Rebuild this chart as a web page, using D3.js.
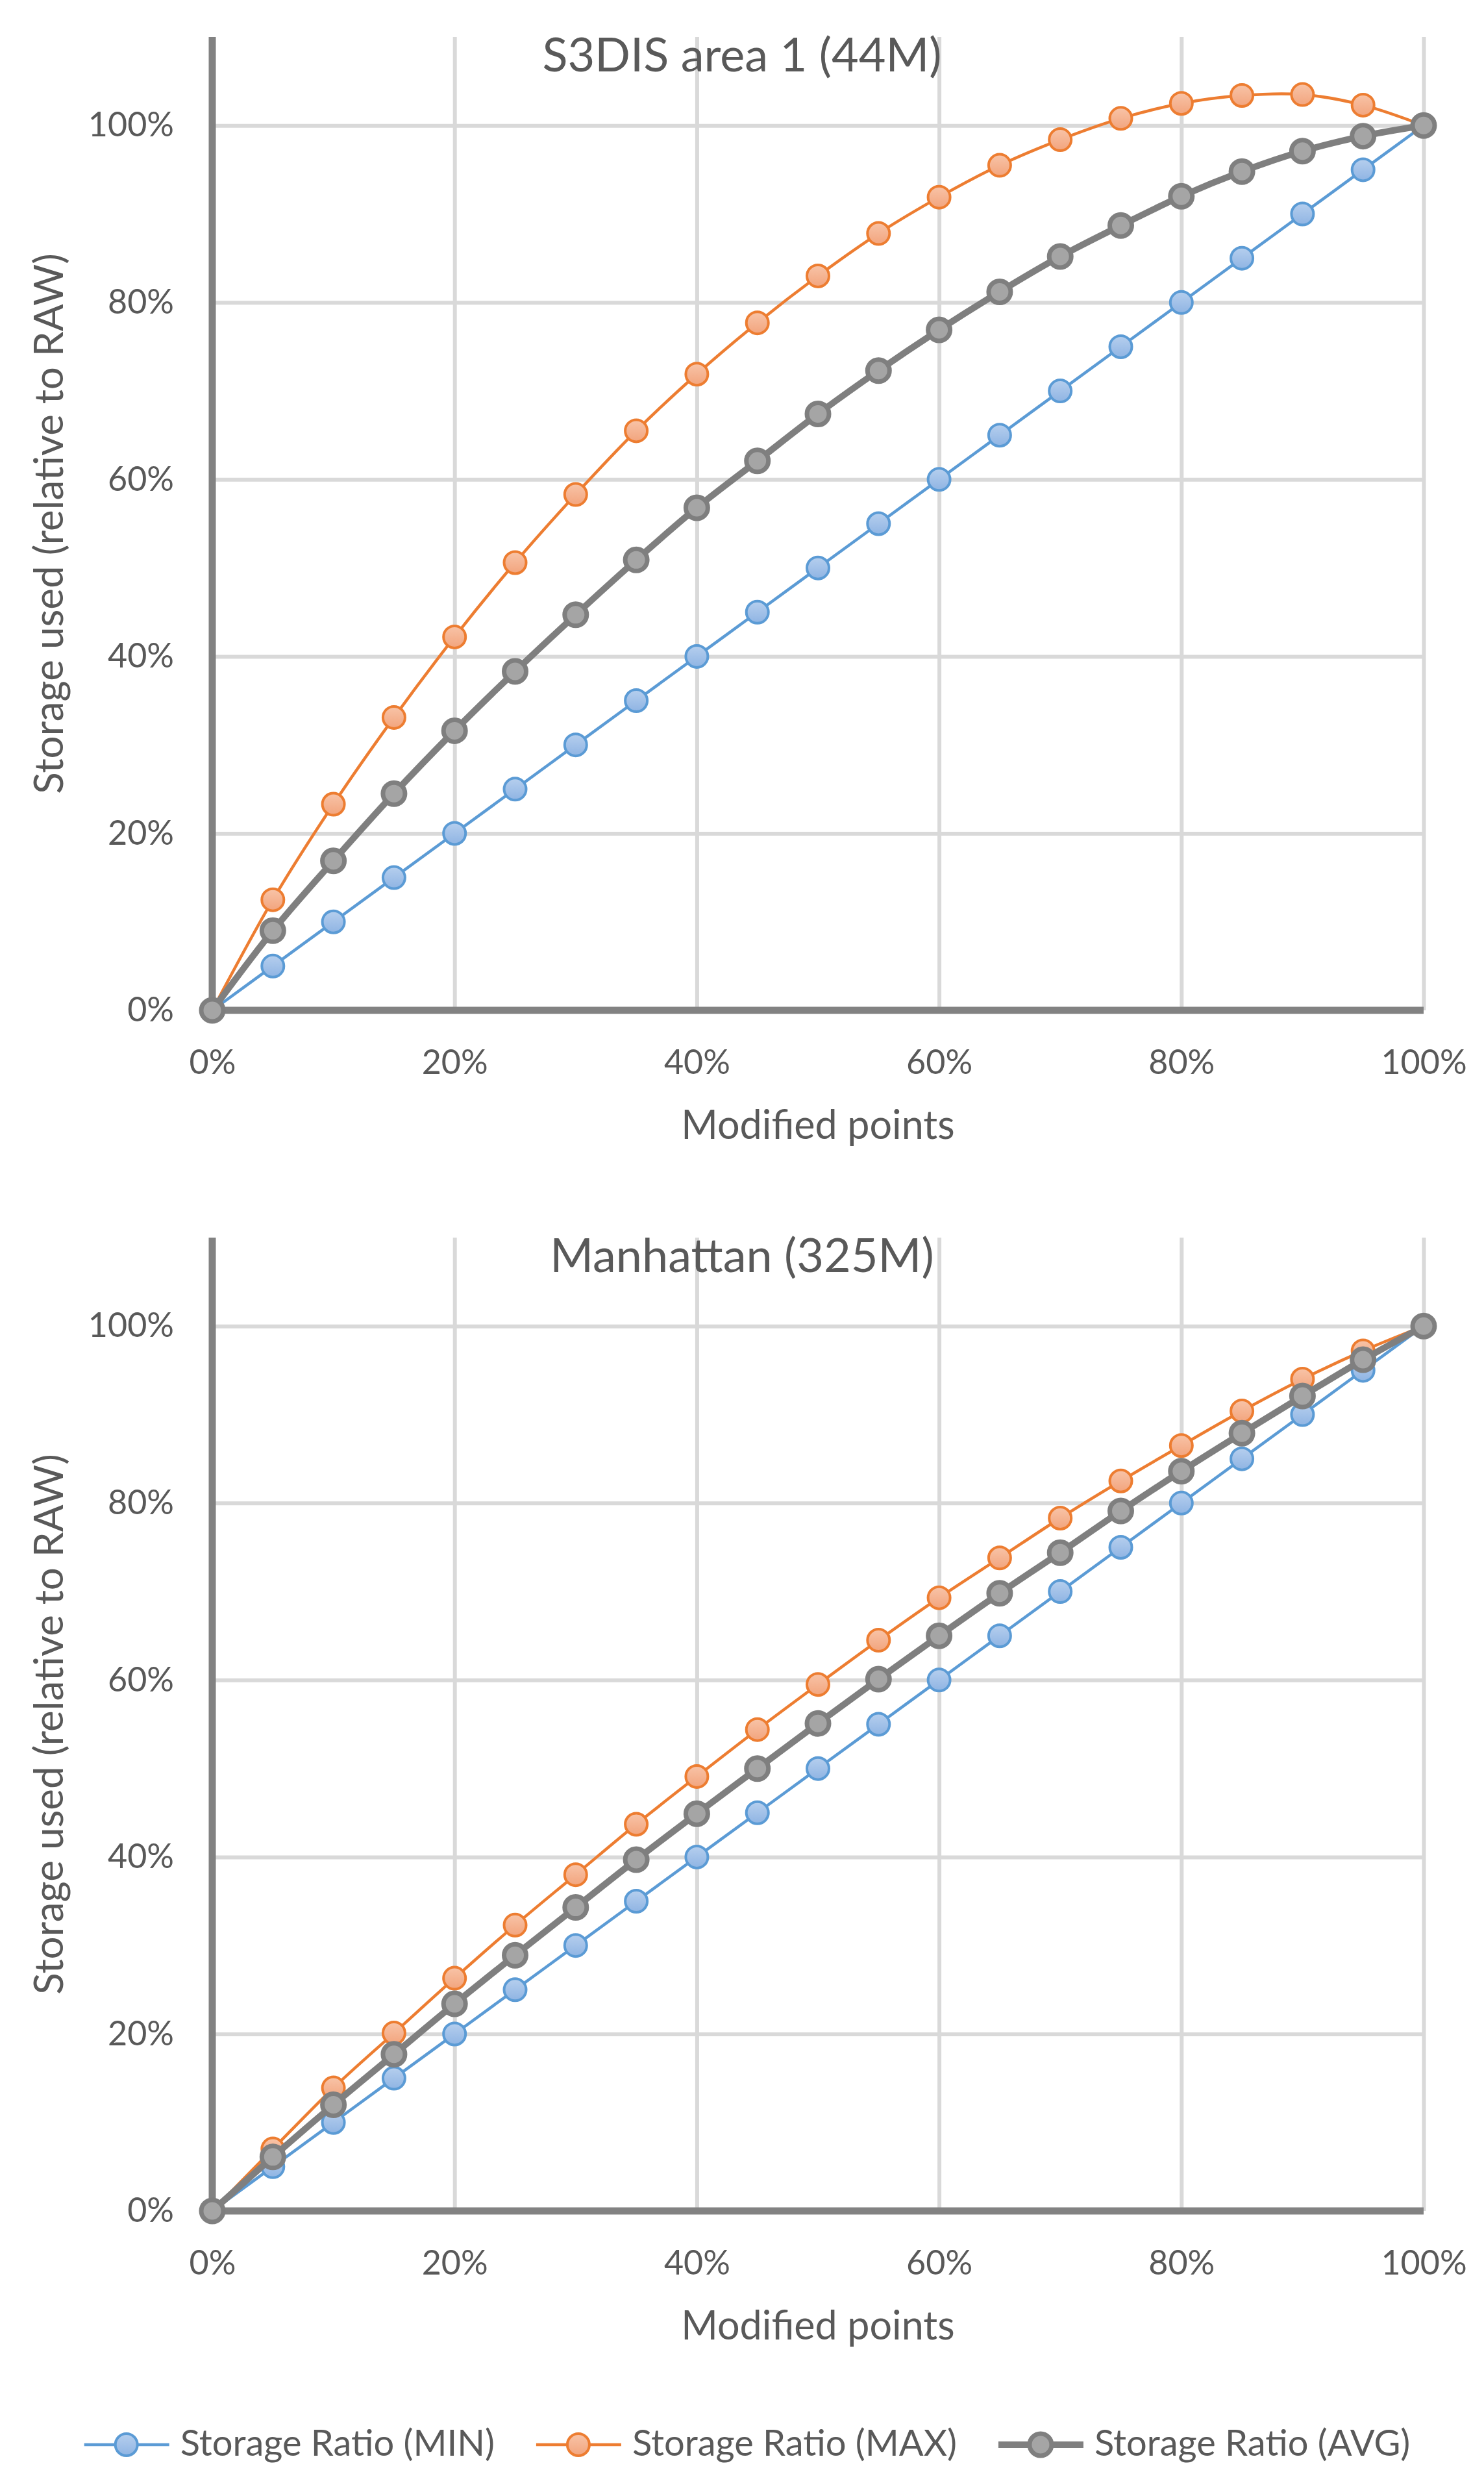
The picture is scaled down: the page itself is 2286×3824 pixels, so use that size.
<!DOCTYPE html>
<html lang="en">
<head>
<meta charset="utf-8">
<script src="https://d3js.org/d3.v7.min.js"></script>
<style>
  body { margin: 0; background: #fff; }
  text { font-family: Lato, "Open Sans", sans-serif; fill: #595959; }
</style>
</head>
<body>
<div id="chart"></div>
<script>

// modified points (%)
var modified = [0, 5, 10, 15, 20, 25, 30, 35, 40, 45, 50, 55, 60, 65, 70, 75, 80, 85, 90, 95, 100];

// S3DIS area 1 (44M)
var s3disMin = [0, 5, 10, 15, 20, 25, 30, 35, 40, 45, 50, 55, 60, 65, 70, 75, 80, 85, 90, 95, 100];
var s3disMax = [0, 12.5, 23.3, 33.1, 42.2, 50.6, 58.3, 65.5, 71.9, 77.7, 83.0, 87.8, 91.9, 95.5, 98.4, 100.8, 102.5, 103.4, 103.5, 102.3, 100];
var s3disAvg = [0, 9.0, 16.9, 24.5, 31.6, 38.3, 44.7, 50.9, 56.8, 62.1, 67.4, 72.3, 76.9, 81.2, 85.2, 88.7, 92.0, 94.8, 97.1, 98.8, 100];

// Manhattan (325M)
var manMin = [0, 5, 10, 15, 20, 25, 30, 35, 40, 45, 50, 55, 60, 65, 70, 75, 80, 85, 90, 95, 100];
var manMax = [0, 7.0, 13.9, 20.1, 26.3, 32.3, 38.0, 43.7, 49.1, 54.4, 59.5, 64.5, 69.3, 73.8, 78.3, 82.5, 86.5, 90.4, 94.0, 97.2, 100];
var manAvg = [0, 6.1, 12.0, 17.7, 23.4, 28.9, 34.3, 39.7, 44.9, 50.0, 55.1, 60.1, 65.0, 69.8, 74.4, 79.1, 83.6, 87.9, 92.1, 96.2, 100];

var xTicks = [0, 20, 40, 60, 80, 100];
var yTicks = [0, 20, 40, 60, 80, 100];
var seriesNames = ["Storage Ratio (MIN)", "Storage Ratio (MAX)", "Storage Ratio (AVG)"];
var titles = ["S3DIS area 1 (44M)", "Manhattan (325M)"];

var w = 2286;
var h = 3824;

var styles = [
  {stroke: "#5b9bd5", width: 4.5, fill: "url(#gBlue)", mstroke: 4},
  {stroke: "#ed7d31", width: 4.5, fill: "url(#gOrange)", mstroke: 4},
  {stroke: "#7f7f7f", width: 10, fill: "#a5a5a5", mstroke: 7}
];

var svg = d3.select("#chart").append("svg")
  .attr("width", w)
  .attr("height", h);

var defs = svg.append("defs");
function grad(id, c1, c2) {
  var lg = defs.append("linearGradient").attr("id", id)
    .attr("x1", 0).attr("y1", 0).attr("x2", 0).attr("y2", 1);
  lg.append("stop").attr("offset", "0%").attr("stop-color", c1);
  lg.append("stop").attr("offset", "100%").attr("stop-color", c2);
}
grad("gBlue", "#b6cfee", "#8fb4e3");
grad("gOrange", "#f8c4a8", "#f2a47d");

var x = d3.scaleLinear().domain([0, 100]).range([327, 2193]);

function drawPanel(title, series, top, bottom) {
  var y = d3.scaleLinear().domain([0, 110]).range([bottom, top]);
  var g = svg.append("g");

  // gridlines
  g.append("g")
    .attr("transform", "translate(0," + bottom + ")")
    .call(d3.axisBottom(x).tickValues(xTicks.slice(1)).tickSize(-(bottom - top)).tickFormat(""))
    .call(function(a) { a.select(".domain").remove(); })
    .selectAll("line").attr("stroke", "#d9d9d9").attr("stroke-width", 6);

  g.append("g")
    .attr("transform", "translate(327,0)")
    .call(d3.axisLeft(y).tickValues(yTicks.slice(1)).tickSize(-(2193 - 327)).tickFormat(""))
    .call(function(a) { a.select(".domain").remove(); })
    .selectAll("line").attr("stroke", "#d9d9d9").attr("stroke-width", 6);

  // axis lines
  g.append("line").attr("x1", 327).attr("x2", 327).attr("y1", top).attr("y2", bottom + 5)
    .attr("stroke", "#828282").attr("stroke-width", 11);
  g.append("line").attr("x1", 322).attr("x2", 2193).attr("y1", bottom).attr("y2", bottom)
    .attr("stroke", "#828282").attr("stroke-width", 11);

  // tick labels
  var yAx = g.append("g")
    .attr("transform", "translate(327,0)")
    .call(d3.axisLeft(y).tickValues(yTicks).tickSize(0).tickPadding(59).tickFormat(function(d) { return d + "%"; }));
  yAx.select(".domain").remove();
  yAx.selectAll("text").attr("font-size", 52).attr("font-family", null).attr("fill", "#595959");

  var xAx = g.append("g")
    .attr("transform", "translate(0," + bottom + ")")
    .call(d3.axisBottom(x).tickValues(xTicks).tickSize(0).tickPadding(61).tickFormat(function(d) { return d + "%"; }));
  xAx.select(".domain").remove();
  xAx.selectAll("text").attr("font-size", 52).attr("font-family", null).attr("fill", "#595959");

  // titles
  g.append("text").attr("x", 1143).attr("y", top + 53)
    .attr("text-anchor", "middle").attr("font-size", 72).text(title);

  g.append("text").attr("x", 1260).attr("y", bottom + 198)
    .attr("text-anchor", "middle").attr("font-size", 61).text("Modified points");

  g.append("text")
    .attr("transform", "translate(97," + ((top + bottom) / 2) + ") rotate(-90)")
    .attr("text-anchor", "middle").attr("font-size", 62).text("Storage used (relative to RAW)");

  var line = d3.line()
    .x(function(d, i) { return x(modified[i]); })
    .y(function(d) { return y(d); })
    .curve(d3.curveCatmullRom.alpha(0));

  series.forEach(function(vals, k) {
    var s = styles[k];
    g.append("path").datum(vals)
      .attr("d", line)
      .attr("fill", "none")
      .attr("stroke", s.stroke)
      .attr("stroke-width", s.width)
      .attr("stroke-linejoin", "round");

    g.selectAll(".m" + k).data(vals).enter().append("circle")
      .attr("class", "m" + k)
      .attr("cx", function(d, i) { return x(modified[i]); })
      .attr("cy", function(d) { return y(d); })
      .attr("r", 17)
      .attr("fill", s.fill)
      .attr("stroke", s.stroke)
      .attr("stroke-width", s.mstroke);
  });
}

drawPanel(titles[0], [s3disMin, s3disMax, s3disAvg], 57, 1556);
drawPanel(titles[1], [manMin, manMax, manAvg], 1906, 3405);

// legend
var legend = svg.append("g");
var pos = 0;
seriesNames.forEach(function(name, k) {
  var s = styles[k];
  var item = legend.append("g").attr("transform", "translate(" + pos + ",0)");
  item.append("line").attr("x1", 0).attr("x2", 131).attr("y1", 3765).attr("y2", 3765)
    .attr("stroke", s.stroke).attr("stroke-width", s.width);
  item.append("circle").attr("cx", 65).attr("cy", 3765).attr("r", 17)
    .attr("fill", s.fill).attr("stroke", s.stroke).attr("stroke-width", s.mstroke);
  var t = item.append("text").attr("x", 148).attr("y", 3782).attr("font-size", 56).text(name);
  pos += 148 + t.node().getComputedTextLength() + 64;
});
var legendW = pos - 64;
legend.attr("transform", "translate(" + (1151 - legendW / 2) + ",0)");

</script>
</body>
</html>
